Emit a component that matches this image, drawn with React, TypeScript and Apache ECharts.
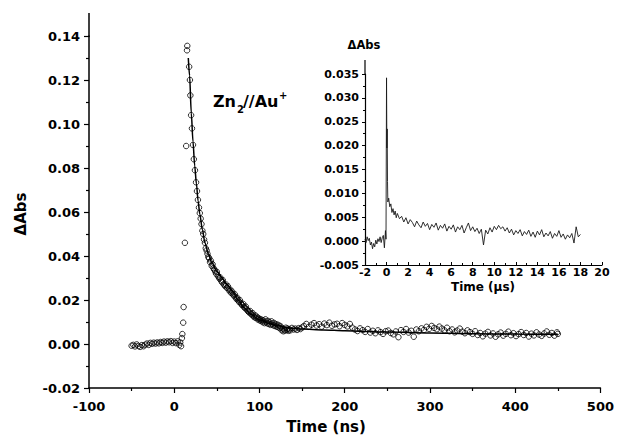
import React, { useEffect, useRef } from "react";
import * as echarts from "echarts";

// ---- main panel: time (ns) vs ΔAbs, open circles ----
const preTrigger: [number, number][] = [
  [-50, -0.0008], [-48, -0.0004], [-46, -0.0011], [-44, -0.0002], [-42, -0.0009], [-40, -0.0013],
  [-38, -0.0005], [-36, -0.001], [-34, -0.0003], [-32, 0.0002], [-30, -0.0004], [-28, 0.0005],
  [-26, 0.0001], [-24, 0.0006], [-22, 0.0002], [-20, 0.0007], [-18, 0.0003], [-16, 0.0009],
  [-14, 0.0005], [-12, 0.0011], [-10, 0.0006], [-8, 0.0012], [-6, 0.0008], [-4, 0.0013],
  [-2, 0.0005], [0, 0.0011], [2, 0.0004], [4, 0.0012], [6, -0.0004], [7, 0.0007], [8, -0.001],
];

const risePoints: [number, number][] = [
  [9, 0.0027], [9.5, 0.0045], [10.5, 0.0097], [11, 0.0168], [12.5, 0.046], [14, 0.09],
  [15, 0.1335], [15.3, 0.1355],
];

const decayPoints: [number, number][] = [
  [17.5, 0.126], [18.4, 0.12], [18.9, 0.113], [19.8, 0.104], [20.8, 0.098], [22, 0.0905],
  [23, 0.084], [24.3, 0.079], [25.6, 0.0735], [26.7, 0.0695], [27.8, 0.0655], [29, 0.062],
  [30, 0.0595], [31, 0.057], [32, 0.0545], [33, 0.0515], [34, 0.05], [35, 0.0475], [36, 0.046],
  [37, 0.0435], [38, 0.0425], [39, 0.041], [40, 0.0395], [41, 0.039], [42, 0.0372], [43, 0.0378],
  [44, 0.0355], [45, 0.0362], [46, 0.0345], [47, 0.0338], [48, 0.0331], [49, 0.032], [50, 0.0328],
  [51, 0.0312], [52, 0.0305], [53, 0.0298], [54, 0.0302], [55, 0.0288], [56, 0.0281], [57, 0.029],
  [58, 0.0272], [59, 0.0268], [60, 0.0262], [61, 0.027], [62, 0.0255], [63, 0.0262], [64, 0.0248],
  [65, 0.024], [66, 0.0246], [67, 0.0232], [68, 0.0238], [69, 0.0225], [70, 0.022], [71, 0.0226],
  [72, 0.0212], [73, 0.0205], [74, 0.021], [75, 0.0198], [76, 0.0192], [77, 0.0199], [78, 0.0186],
  [79, 0.018], [80, 0.0176], [81, 0.0182], [82, 0.0168], [83, 0.0163], [84, 0.017], [85, 0.0158],
  [86, 0.0152], [87, 0.0148], [88, 0.0143], [89, 0.015], [90, 0.0138], [91, 0.0133], [92, 0.014],
  [93, 0.0127], [94, 0.0122], [95, 0.013], [96, 0.0118], [97, 0.0124], [98, 0.0112], [99, 0.0117],
  [100, 0.0108], [101, 0.0113], [102, 0.0104], [103, 0.011], [104, 0.0099], [105, 0.0106],
  [106, 0.0095], [107, 0.0112], [108, 0.0101], [109, 0.0094], [110, 0.0105], [111, 0.0091],
  [112, 0.0098], [113, 0.0087], [114, 0.0103], [115, 0.0092], [116, 0.0085], [117, 0.0096],
  [118, 0.0082], [119, 0.009], [120, 0.0079], [121, 0.0088], [122, 0.0076], [123, 0.0084],
  [124, 0.0072], [125, 0.008], [126, 0.0063], [127, 0.0071], [128, 0.0058], [129, 0.0066],
  [130, 0.0061], [131, 0.0074], [132, 0.0064], [133, 0.007], [134, 0.006], [135, 0.0068],
  [136, 0.0062], [138, 0.0073], [140, 0.0066], [142, 0.007], [144, 0.0064], [146, 0.0072],
  [148, 0.0068], [150, 0.0075],
];

const tailPoints: [number, number][] = [
  [152, 0.0082], [155, 0.0091], [158, 0.0078], [161, 0.0088], [164, 0.0095], [167, 0.0084],
  [170, 0.009], [173, 0.0079], [176, 0.0093], [179, 0.0086], [182, 0.0097], [185, 0.0083],
  [188, 0.0089], [191, 0.0092], [194, 0.0081], [197, 0.0095], [200, 0.0087], [203, 0.008],
  [206, 0.0091], [209, 0.0074], [212, 0.0066], [215, 0.0059], [218, 0.0071], [221, 0.0063],
  [224, 0.0055], [227, 0.0068], [230, 0.0052], [233, 0.006], [236, 0.0049], [239, 0.0062],
  [242, 0.0054], [245, 0.0046], [248, 0.0058], [251, 0.0061], [254, 0.005], [257, 0.0044],
  [260, 0.0057], [263, 0.0031], [266, 0.0063], [269, 0.0055], [272, 0.0068], [275, 0.0052],
  [278, 0.006], [281, 0.0033], [284, 0.0066], [287, 0.0058], [290, 0.0071], [293, 0.0064],
  [296, 0.0078], [299, 0.0069], [302, 0.0082], [305, 0.0073], [308, 0.0067], [311, 0.0079],
  [314, 0.007], [317, 0.0062], [320, 0.0074], [323, 0.0058], [326, 0.0066], [329, 0.0053],
  [332, 0.0061], [335, 0.007], [338, 0.0056], [341, 0.0049], [344, 0.0062], [347, 0.0054],
  [350, 0.0046], [353, 0.0058], [356, 0.0041], [359, 0.005], [362, 0.0035], [365, 0.0047],
  [368, 0.0055], [371, 0.0039], [374, 0.0048], [377, 0.0033], [380, 0.0044], [383, 0.0052],
  [386, 0.0038], [389, 0.0046], [392, 0.0056], [395, 0.004], [398, 0.0049], [401, 0.0036],
  [404, 0.0045], [407, 0.0054], [410, 0.0041], [413, 0.005], [416, 0.0034], [419, 0.0047],
  [422, 0.0039], [425, 0.0053], [428, 0.0043], [431, 0.0037], [434, 0.0048], [437, 0.0057],
  [440, 0.0042], [443, 0.005], [446, 0.0038], [449, 0.0053], [450, 0.0046],
];

// fitted decay curve (solid line)
const fitCurve: [number, number][] = [
  [16.5, 0.13], [18, 0.122], [20, 0.105], [22, 0.092], [24, 0.081], [26, 0.073], [28, 0.065],
  [30, 0.059], [33, 0.052], [36, 0.046], [40, 0.041], [44, 0.037], [50, 0.033], [56, 0.03],
  [62, 0.027], [68, 0.024], [75, 0.02], [82, 0.0165], [90, 0.0135], [100, 0.011], [110, 0.0095],
  [120, 0.0084], [135, 0.0073], [150, 0.0068], [175, 0.0064], [200, 0.006], [250, 0.0054],
  [300, 0.005], [350, 0.0047], [400, 0.0045], [450, 0.0044],
];

// ---- inset: time (µs) vs ΔAbs, trace ----
const insetEarly: [number, number][] = [
  [-2, 0.0004], [-1.9, -0.0003], [-1.8, 0.0009], [-1.7, 0.0001], [-1.6, 0.0006], [-1.5, -0.0008],
  [-1.4, -0.0002], [-1.3, -0.0016], [-1.2, -0.0005], [-1.1, -0.0012], [-1, 0.0002], [-0.9, -0.0006],
  [-0.8, 0.0005], [-0.7, -0.0001], [-0.6, 0.0009], [-0.5, -0.0003], [-0.4, 0.0007], [-0.3, 0.0012],
  [-0.2, -0.0014], [-0.1, 0.0022], [-0.05, 0.0004], [0, 0.0342], [0.03, 0.0195], [0.06, 0.0235],
  [0.09, 0.0125], [0.12, 0.0082], [0.2, 0.009], [0.3, 0.0072], [0.4, 0.0078], [0.5, 0.006],
  [0.6, 0.0068], [0.7, 0.0055], [0.8, 0.0063], [0.9, 0.0049], [1, 0.0058],
];

const insetLate: [number, number][] = [
  [1.2, 0.0047], [1.4, 0.0052], [1.6, 0.004], [1.8, 0.0049], [2, 0.0036], [2.2, 0.0045], [2.4, 0.0039],
  [2.6, 0.003], [2.8, 0.0042], [3, 0.0034], [3.2, 0.0028], [3.4, 0.004], [3.6, 0.0031], [3.8, 0.0037],
  [4, 0.0024], [4.2, 0.0035], [4.4, 0.0029], [4.6, 0.0038], [4.8, 0.0023], [5, 0.0033], [5.2, 0.0027],
  [5.4, 0.0036], [5.6, 0.0021], [5.8, 0.0031], [6, 0.0025], [6.2, 0.0034], [6.4, 0.0019], [6.6, 0.003],
  [6.8, 0.0024], [7, 0.0033], [7.2, 0.0017], [7.4, 0.0028], [7.6, 0.0038], [7.8, 0.0022], [8, 0.003],
  [8.2, 0.002], [8.4, 0.0027], [8.6, 0.0016], [8.8, 0.0025], [9, -0.0008], [9.2, 0.0023], [9.4, 0.0015],
  [9.6, 0.0028], [9.8, 0.0019], [10, 0.0031], [10.2, 0.0024], [10.4, 0.0033], [10.6, 0.0026],
  [10.8, 0.003], [11, 0.0021], [11.2, 0.0028], [11.4, 0.0017], [11.6, 0.0025], [11.8, 0.0013],
  [12, 0.0022], [12.2, 0.0016], [12.4, 0.0024], [12.6, 0.0011], [12.8, 0.002], [13, 0.0014],
  [13.2, 0.0023], [13.4, 0.001], [13.6, 0.0019], [13.8, 0.0008], [14, 0.0021], [14.2, 0.0013],
  [14.4, 0.0024], [14.6, 0.0009], [14.8, 0.0017], [15, 0.0011], [15.2, 0.002], [15.4, 0.0006],
  [15.6, 0.0016], [15.8, 0.001], [16, 0.0022], [16.2, 0.0008], [16.4, 0.0015], [16.6, 0.0004],
  [16.8, 0.0013], [17, 0.0007], [17.2, 0.0016], [17.4, -0.0004], [17.6, 0.003], [17.8, 0.0009],
  [18, 0.0014],
];

// axis ranges / tick steps
const mainXRange = [-100, 500, 100];
const mainYRange = [-0.02, 0.14, 0.02];
const insetXRange = [-2, 20, 2];
const insetYRange = [-0.005, 0.035, 0.005];

const FONT = "DejaVu Sans";

export default function App() {
  const ref = useRef<HTMLDivElement>(null);
  useEffect(() => {
    document.body.style.margin = "0";
    if (!ref.current) return;
    const chart = echarts.init(ref.current, undefined, { renderer: "svg" });
    const mainAxisLine = { show: true, onZero: false, lineStyle: { color: "#000", width: 1.5 } };
    const insetAxisLine = { show: true, onZero: false, lineStyle: { color: "#000", width: 1.2 } };
    const mainLabel = { color: "#000", fontFamily: FONT, fontWeight: "bold" as const, fontSize: 13 };
    const insetLabel = { color: "#000", fontFamily: FONT, fontWeight: "bold" as const, fontSize: 11 };
    chart.setOption({
      animation: false,
      backgroundColor: "#fff",
      grid: [
        { left: 89, right: 14, top: 36, bottom: 50 },
        { left: 365, right: 15, top: 74, bottom: 173 },
      ],
      xAxis: [
        {
          type: "value", gridIndex: 0, min: mainXRange[0], max: mainXRange[1], interval: mainXRange[2],
          axisLine: mainAxisLine, splitLine: { show: false },
          axisTick: { show: true, length: 5, lineStyle: { color: "#000", width: 1.2 } },
          minorTick: { show: true, splitNumber: 2, length: 3, lineStyle: { color: "#000", width: 1.2 } },
          axisLabel: { ...mainLabel, margin: 12, formatter: (v: number) => String(v) },
        },
        {
          type: "value", gridIndex: 1, min: insetXRange[0], max: insetXRange[1], interval: insetXRange[2],
          axisLine: insetAxisLine, splitLine: { show: false },
          axisTick: { show: true, inside: true, length: 3, lineStyle: { color: "#000", width: 1 } },
          minorTick: { show: true, splitNumber: 2, length: 2, lineStyle: { color: "#000", width: 1 } },
          axisLabel: { ...insetLabel, margin: 2, formatter: (v: number) => String(v) },
        },
      ],
      yAxis: [
        {
          type: "value", gridIndex: 0, min: mainYRange[0], max: mainYRange[1], interval: mainYRange[2],
          axisLine: mainAxisLine, splitLine: { show: false },
          axisTick: { show: true, length: 5, lineStyle: { color: "#000", width: 1.2 } },
          minorTick: { show: true, splitNumber: 2, length: 3, lineStyle: { color: "#000", width: 1.2 } },
          axisLabel: { ...mainLabel, margin: 9, formatter: (v: number) => v.toFixed(2) },
        },
        {
          type: "value", gridIndex: 1, min: insetYRange[0], max: insetYRange[1], interval: insetYRange[2],
          axisLine: insetAxisLine, splitLine: { show: false },
          axisTick: { show: true, length: 3, lineStyle: { color: "#000", width: 1 } },
          minorTick: { show: true, splitNumber: 2, length: 2, lineStyle: { color: "#000", width: 1 } },
          axisLabel: { ...insetLabel, margin: 6, formatter: (v: number) => v.toFixed(3) },
        },
      ],
      series: [
        {
          type: "scatter", xAxisIndex: 0, yAxisIndex: 0, silent: true,
          data: [...preTrigger, ...risePoints, ...decayPoints, ...tailPoints],
          symbol: "circle", symbolSize: 5.5,
          itemStyle: { color: "rgba(255,255,255,0)", borderColor: "#000", borderWidth: 1 },
        },
        {
          type: "line", xAxisIndex: 0, yAxisIndex: 0, silent: true, data: fitCurve,
          showSymbol: false, smooth: 0.3, smoothMonotone: "x",
          lineStyle: { color: "#000", width: 1.5 },
        },
        {
          type: "line", xAxisIndex: 1, yAxisIndex: 1, silent: true, data: [...insetEarly, ...insetLate],
          showSymbol: false, lineStyle: { color: "#1a1a1a", width: 0.9 },
        },
      ],
      graphic: [
        { type: "line", shape: { x1: 89, y1: 13, x2: 89, y2: 37 }, style: { stroke: "#000", lineWidth: 1.5 } },
        { type: "line", shape: { x1: 365, y1: 60, x2: 365, y2: 75 }, style: { stroke: "#000", lineWidth: 1.2 } },
        {
          type: "text", x: 21, y: 214, rotation: Math.PI / 2,
          style: { text: "ΔAbs", fontFamily: FONT, fontWeight: "bold", fontSize: 15, fill: "#000", align: "center", verticalAlign: "middle" },
        },
        {
          type: "text", x: 326, y: 427,
          style: { text: "Time (ns)", fontFamily: FONT, fontWeight: "bold", fontSize: 15, fill: "#000", align: "center", verticalAlign: "middle" },
        },
        {
          type: "text", x: 364, y: 45,
          style: { text: "ΔAbs", fontFamily: FONT, fontWeight: "bold", fontSize: 11.5, fill: "#000", align: "center", verticalAlign: "middle" },
        },
        {
          type: "text", x: 483, y: 287,
          style: { text: "Time (µs)", fontFamily: FONT, fontWeight: "bold", fontSize: 12, fill: "#000", align: "center", verticalAlign: "middle" },
        },
        {
          type: "text", x: 213, y: 101,
          style: { text: "Zn", fontFamily: FONT, fontWeight: "bold", fontSize: 16, fill: "#000", align: "left", verticalAlign: "middle" },
        },
        {
          type: "text", x: 237, y: 109,
          style: { text: "2", fontFamily: FONT, fontWeight: "bold", fontSize: 10, fill: "#000", align: "left", verticalAlign: "middle" },
        },
        {
          type: "text", x: 243, y: 101,
          style: { text: "//Au", fontFamily: FONT, fontWeight: "bold", fontSize: 16, fill: "#000", align: "left", verticalAlign: "middle" },
        },
        {
          type: "text", x: 279, y: 95.5,
          style: { text: "+", fontFamily: FONT, fontWeight: "bold", fontSize: 10, fill: "#000", align: "left", verticalAlign: "middle" },
        },
      ],
    });
    return () => chart.dispose();
  }, []);
  return <div ref={ref} style={{ width: 617, height: 438 }} />;
}
